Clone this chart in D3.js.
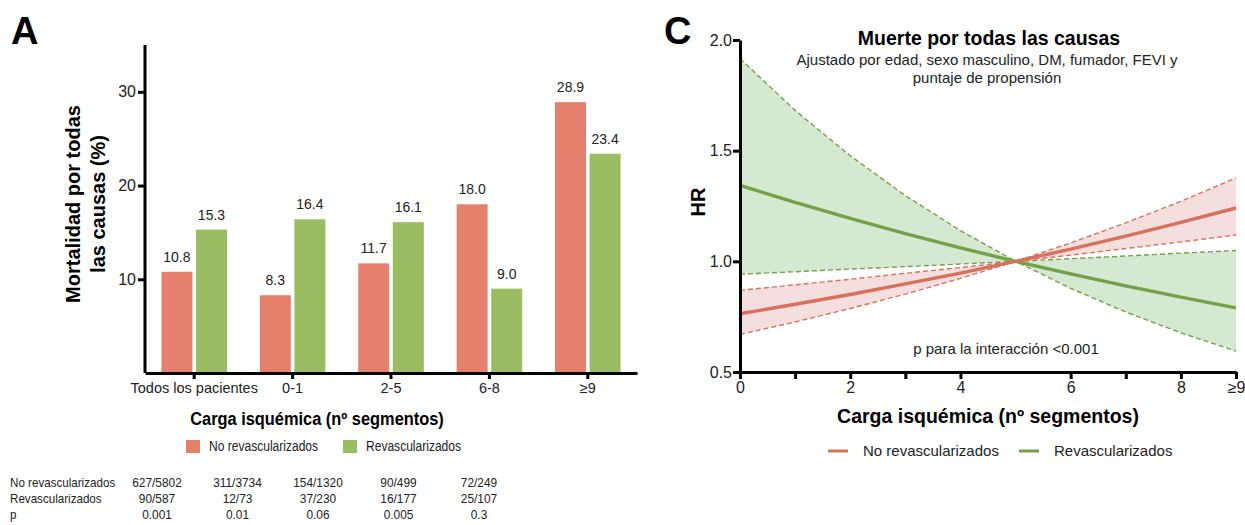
<!DOCTYPE html>
<html>
<head>
<meta charset="utf-8">
<script src="https://cdn.jsdelivr.net/npm/d3@7"></script>
<style>
  html, body { margin: 0; padding: 0; background: #fff; }
  svg { display: block; font-family: "Liberation Sans", Arial, sans-serif; }
</style>
</head>
<body>
<svg id="fig" width="1245" height="525"></svg>
<script>
// ---- Panel A: all-cause mortality by ischemic burden ----
const categories = ["Todos los pacientes", "0-1", "2-5", "6-8", "≥9"];
const seriesNames = ["No revascularizados", "Revascularizados"];
const noRevascMortality = [10.8, 8.3, 11.7, 18.0, 28.9];
const revascMortality = [15.3, 16.4, 16.1, 9.0, 23.4];
const yTicksA = [10, 20, 30];

const tableRowLabels = ["No revascularizados", "Revascularizados", "p"];
const noRevascCounts = ["627/5802", "311/3734", "154/1320", "90/499", "72/249"];
const revascCounts = ["90/587", "12/73", "37/230", "16/177", "25/107"];
const pValues = ["0.001", "0.01", "0.06", "0.005", "0.3"];

// ---- Panel C: adjusted HR vs ischemic burden ----
const burden = [0, 1, 2, 3, 4, 5, 6, 7, 8, 9];
const hrNoRevasc      = [0.763, 0.806, 0.850, 0.898, 0.947, 1.000, 1.055, 1.114, 1.176, 1.241];
const hrNoRevascHigh  = [0.869, 0.894, 0.919, 0.946, 0.972, 1.000, 1.083, 1.174, 1.271, 1.377];
const hrNoRevascLow   = [0.670, 0.726, 0.787, 0.852, 0.923, 1.000, 1.028, 1.058, 1.088, 1.119];
const hrRevasc        = [1.343, 1.266, 1.194, 1.125, 1.061, 1.000, 0.943, 0.889, 0.838, 0.790];
const hrRevascHigh    = [1.916, 1.682, 1.477, 1.297, 1.139, 1.000, 1.012, 1.024, 1.037, 1.049];
const hrRevascLow     = [0.942, 0.953, 0.965, 0.976, 0.988, 1.000, 0.878, 0.771, 0.677, 0.595];
const xTicksC = [0, 1, 2, 3, 4, 6, 7, 8, 9];
const xTickLabelsC = { 0: "0", 2: "2", 4: "4", 6: "6", 8: "8", 9: "≥9" };
const yTicksC = [0.5, 1.0, 1.5, 2.0];

const RED = "#e5806d", GREEN = "#9abd63";
const RED_LINE = "#d8705d", GREEN_LINE = "#76a046";
const RED_BAND = "#f4dede", GREEN_BAND = "#d5e8d2";

// narrow a text horizontally while keeping its glyph height
function squeeze(sel, factor) {
  sel.each(function () {
    const w = this.getComputedTextLength();
    d3.select(this).attr("textLength", w * factor).attr("lengthAdjust", "spacingAndGlyphs");
  });
}

const svg = d3.select("#fig");
svg.append("rect").attr("width", 1245).attr("height", 525).attr("fill", "#fff");

// ================= Panel A =================
const A = svg.append("g");
const xA = d3.scaleBand().domain(categories).range([145, 637]).padding(0);
const xInner = d3.scaleBand().domain(seriesNames)
  .range([16.4, xA.bandwidth() - 16.4]).paddingInner(0.104);
const yA = d3.scaleLinear().domain([0, 35]).range([373, 45]);

const barData = categories.map((c, i) => ({
  cat: c,
  vals: [
    { s: seriesNames[0], v: noRevascMortality[i], color: RED },
    { s: seriesNames[1], v: revascMortality[i], color: GREEN }
  ]
}));

const groups = A.selectAll("g.grp").data(barData).join("g")
  .attr("class", "grp")
  .attr("transform", d => `translate(${xA(d.cat)},0)`);

groups.selectAll("rect").data(d => d.vals).join("rect")
  .attr("x", d => xInner(d.s))
  .attr("width", xInner.bandwidth())
  .attr("y", d => yA(d.v))
  .attr("height", d => yA(0) - yA(d.v))
  .attr("fill", d => d.color);

groups.selectAll("text").data(d => d.vals).join("text")
  .attr("x", d => xInner(d.s) + xInner.bandwidth() / 2)
  .attr("y", d => yA(d.v) - 10)
  .attr("text-anchor", "middle")
  .attr("font-size", 14)
  .attr("fill", "#222")
  .text(d => d.v.toFixed(1));

// axes
const yAxisA = A.append("g").attr("transform", "translate(145,0)")
  .call(d3.axisLeft(yA).tickValues(yTicksA).tickSize(7).tickPadding(2).tickFormat(d3.format("d")));
yAxisA.select(".domain").attr("d", `M0,${yA(35)}V${yA(0)}`);
const xAxisA = A.append("g").attr("transform", `translate(0,${yA(0)})`)
  .call(d3.axisBottom(xA).tickSize(6).tickPadding(4).tickSizeOuter(0));
[yAxisA, xAxisA].forEach(ax => {
  ax.select(".domain").attr("stroke", "#000").attr("stroke-width", 3);
  ax.selectAll(".tick line").attr("stroke", "#000").attr("stroke-width", 3);
  ax.selectAll("text").attr("font-family", "Liberation Sans, Arial, sans-serif").attr("fill", "#222");
});
yAxisA.selectAll("text").attr("font-size", 16);
xAxisA.selectAll("text").attr("font-size", 14.5);

// panel letter
svg.append("text").attr("x", 11).attr("y", 44).attr("font-size", 38).attr("font-weight", "bold").text("A");

// y title
const yTitleA = ["Mortalidad por todas", "las causas (%)"];
yTitleA.forEach((t, i) => {
  A.append("text")
    .attr("transform", `translate(${80 + i * 25},204) rotate(-90)`)
    .attr("text-anchor", "middle").attr("font-size", 20).attr("font-weight", "bold")
    .text(t);
});
// x title
A.append("text").attr("x", 317).attr("y", 425).attr("text-anchor", "middle")
  .attr("font-size", 18).attr("font-weight", "bold").text("Carga isquémica (nº segmentos)")
  .call(squeeze, 0.91);

// legend
const legA = [{ s: seriesNames[0], c: RED, x: 186 }, { s: seriesNames[1], c: GREEN, x: 343 }];
legA.forEach(l => {
  A.append("rect").attr("x", l.x).attr("y", 440).attr("width", 14).attr("height", 13).attr("fill", l.c);
  A.append("text").attr("x", l.x + 23).attr("y", 451).attr("font-size", 14).attr("fill", "#222").text(l.s)
    .call(squeeze, 0.86);
});

// counts table
const colX = d3.scalePoint().domain(categories).range([157, 479]);
const tableRows = [noRevascCounts, revascCounts, pValues];
const rowY = d3.scalePoint().domain(tableRowLabels).range([487, 519]);
tableRowLabels.forEach((lab, r) => {
  A.append("text").attr("x", 10).attr("y", rowY(lab)).attr("font-size", 13.5).attr("fill", "#222").text(lab)
    .call(squeeze, 0.86);
  categories.forEach((c, j) => {
    A.append("text").attr("x", colX(c)).attr("y", rowY(lab)).attr("text-anchor", "middle")
      .attr("font-size", 13.5).attr("fill", "#222").text(tableRows[r][j])
      .call(squeeze, 0.88);
  });
});

// ================= Panel C =================
const C = svg.append("g");
const xC = d3.scaleLinear().domain([0, 9]).range([740, 1236]);
const yC = d3.scaleLinear().domain([0.5, 2.0]).range([372, 40]);

const pts = (arr) => burden.map((b, i) => [b, arr[i]]);
const bandArea = d3.area().x(d => xC(d.x)).y0(d => yC(d.lo)).y1(d => yC(d.hi));
const line = d3.line().x(d => xC(d[0])).y(d => yC(d[1]));

const greenBand = burden.map((b, i) => ({ x: b, lo: hrRevascLow[i], hi: hrRevascHigh[i] }));
const redBand = burden.map((b, i) => ({ x: b, lo: hrNoRevascLow[i], hi: hrNoRevascHigh[i] }));

C.append("path").attr("d", bandArea(greenBand)).attr("fill", GREEN_BAND);
C.append("path").attr("d", bandArea(redBand)).attr("fill", RED_BAND);

[[hrRevascHigh, GREEN_LINE], [hrRevascLow, GREEN_LINE], [hrNoRevascHigh, RED_LINE], [hrNoRevascLow, RED_LINE]]
  .forEach(([arr, col]) => {
    C.append("path").attr("d", line(pts(arr))).attr("fill", "none")
      .attr("stroke", col).attr("stroke-width", 1.4).attr("stroke-dasharray", "5,3");
  });
C.append("path").attr("d", line(pts(hrRevasc))).attr("fill", "none").attr("stroke", GREEN_LINE).attr("stroke-width", 3.4);
C.append("path").attr("d", line(pts(hrNoRevasc))).attr("fill", "none").attr("stroke", RED_LINE).attr("stroke-width", 3.4);

const yAxisC = C.append("g").attr("transform", "translate(740,0)")
  .call(d3.axisLeft(yC).tickValues(yTicksC).tickSize(7).tickPadding(1).tickSizeOuter(0).tickFormat(d3.format(".1f")));
const xAxisC = C.append("g").attr("transform", "translate(0,372)")
  .call(d3.axisBottom(xC).tickValues(xTicksC).tickSize(7).tickPadding(3).tickSizeOuter(0)
    .tickFormat(d => xTickLabelsC[d] || ""));
[yAxisC, xAxisC].forEach(ax => {
  ax.select(".domain").attr("stroke", "#000").attr("stroke-width", 3);
  ax.selectAll(".tick line").attr("stroke", "#000").attr("stroke-width", 3);
  ax.selectAll("text").attr("font-family", "Liberation Sans, Arial, sans-serif").attr("fill", "#222").attr("font-size", 16);
});

svg.append("text").attr("x", 664).attr("y", 44).attr("font-size", 38).attr("font-weight", "bold").text("C");

C.append("text").attr("transform", "translate(705,202) rotate(-90)").attr("text-anchor", "middle")
  .attr("font-size", 20).attr("font-weight", "bold").text("HR");

C.append("text").attr("x", 989).attr("y", 45).attr("text-anchor", "middle")
  .attr("font-size", 19.5).attr("font-weight", "bold").text("Muerte por todas las causas");
C.append("text").attr("x", 987).attr("y", 65).attr("text-anchor", "middle")
  .attr("font-size", 15).attr("fill", "#222").text("Ajustado por edad, sexo masculino, DM, fumador, FEVI y");
C.append("text").attr("x", 987).attr("y", 83).attr("text-anchor", "middle")
  .attr("font-size", 15).attr("fill", "#222").text("puntaje de propensión");
C.append("text").attr("x", 1006).attr("y", 354).attr("text-anchor", "middle")
  .attr("font-size", 15).attr("fill", "#222").text("p para la interacción <0.001");

C.append("text").attr("x", 988).attr("y", 423).attr("text-anchor", "middle")
  .attr("font-size", 19.5).attr("font-weight", "bold").text("Carga isquémica (nº segmentos)");

const legC = [{ s: seriesNames[0], c: RED_LINE, x: 828 }, { s: seriesNames[1], c: GREEN_LINE, x: 1019 }];
legC.forEach(l => {
  C.append("line").attr("x1", l.x).attr("x2", l.x + 20).attr("y1", 451).attr("y2", 451)
    .attr("stroke", l.c).attr("stroke-width", 3);
  C.append("text").attr("x", l.x + 35).attr("y", 456).attr("font-size", 15).attr("fill", "#222").text(l.s);
});
</script>
</body>
</html>
